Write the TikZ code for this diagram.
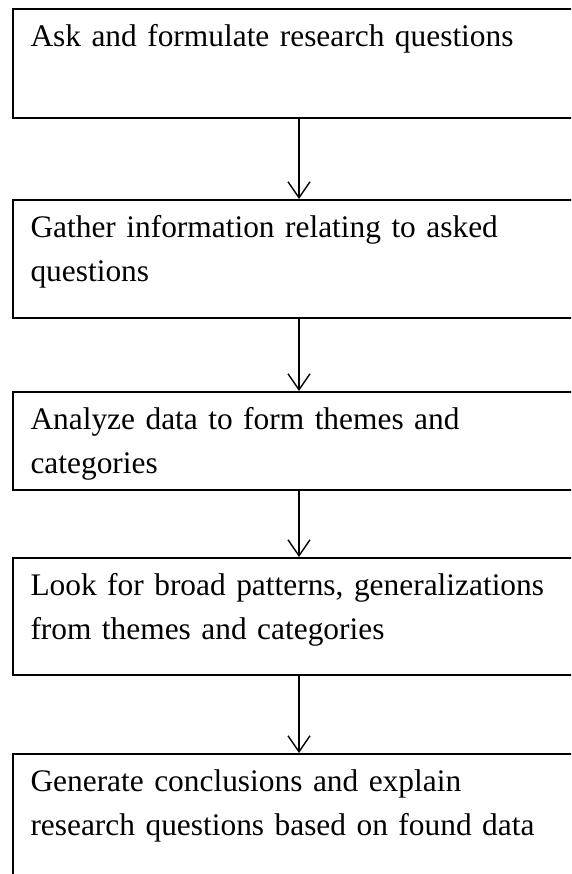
\documentclass[tikz,border=0pt]{standalone}
\usepackage{fontspec}
\setmainfont{Liberation Serif}
\usetikzlibrary{arrows.meta}

\tikzset{
  stepbox/.style={draw, line width=1.6pt, anchor=north, minimum width=572pt,
    text width=537pt, align=left, inner xsep=17.5pt, inner ysep=8pt,
    text height=30pt, font=\fontsize{31.4}{44}\selectfont},
  flowarrow/.style={line width=1.4pt, -{Straight Barb[length=16pt,width=22pt,line width=1.4pt]}}
}

\begin{document}
\begin{tikzpicture}[x=1pt, y=-1pt]
    \useasboundingbox (0,0) rectangle (571,874);
    \clip (0,0) rectangle (571,874);

    \node [stepbox, text depth=63pt] (ask) at (299,8) {Ask and formulate research questions};
    \node [stepbox, text depth=72pt] (gather) at (299,199) {Gather information relating to asked\\questions};
    \node [stepbox, text depth=52pt] (analyze) at (299,391) {Analyze data to form themes and\\categories};
    \node [stepbox, text depth=71pt] (look) at (299,557) {Look for broad patterns, generalizations\\from themes and categories};
    \node [stepbox, text depth=154pt] (generate) at (299,753) {Generate conclusions and explain\\research questions based on found data};

    %arrows
    \draw[flowarrow] (ask) -- (gather);
    \draw[flowarrow] (gather) -- (analyze);
    \draw[flowarrow] (analyze) -- (look);
    \draw[flowarrow] (look) -- (generate);
\end{tikzpicture}
\end{document}
